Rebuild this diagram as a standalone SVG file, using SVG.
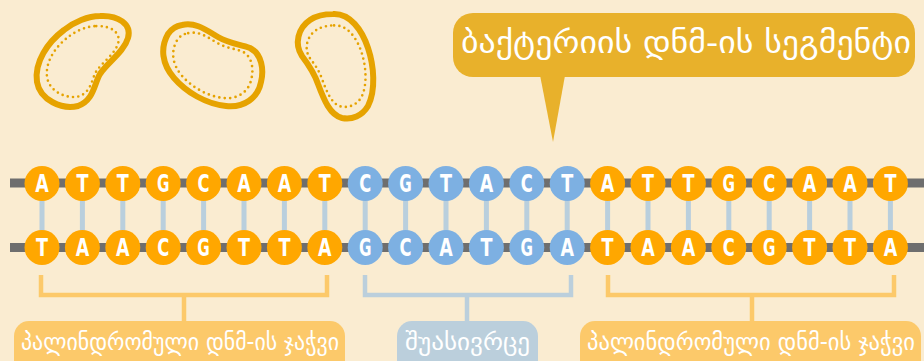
<svg xmlns="http://www.w3.org/2000/svg" width="924" height="361" viewBox="0 0 924 361">
  <style>
    .bg { fill: #FAECD1; }
    .blob { fill: none; stroke: #E6A300; stroke-width: 6; stroke-linejoin: round; }
    .blob-dots { fill: none; stroke: #E6A300; stroke-width: 3.4; stroke-linecap: round; stroke-dasharray: 0 6.8; }
    .backbone { stroke: #6E6E6E; stroke-width: 9; }
    .rung { stroke: #B9CFDD; stroke-width: 5; }
    .base-o { fill: #FFA700; }
    .base-b { fill: #7DB0E2; }
    .nt { fill: #FFFFFF; font-family: "DejaVu Sans Condensed", "Liberation Sans", sans-serif; font-weight: bold; font-size: 24px; text-anchor: middle; }
    .geo { fill: #FFFFFF; font-family: "DejaVu Sans Condensed", "DejaVu Sans", sans-serif; text-anchor: middle; }
    .bracket-o { fill: none; stroke: #FCC96A; stroke-width: 4.5; }
    .bracket-b { fill: none; stroke: #BBCFDC; stroke-width: 4.5; }
  </style>

  <rect class="bg" x="0" y="0" width="924" height="361"/>

  <!-- bacterial cells: thick outline with a dotted inner membrane -->
  <g id="cell-1">
    <path class="blob" d="M 100 16 C 118 15, 132 24, 128 38 C 124 52, 108 62, 100 74 C 94 84, 94 100, 78 106 C 62 110, 40 100, 37 82 C 34 62, 48 42, 64 30 C 74 22, 88 16, 100 16 Z"/>
    <path class="blob-dots" transform="translate(83 62) scale(0.78) translate(-83 -62)" d="M 100 16 C 118 15, 132 24, 128 38 C 124 52, 108 62, 100 74 C 94 84, 94 100, 78 106 C 62 110, 40 100, 37 82 C 34 62, 48 42, 64 30 C 74 22, 88 16, 100 16 Z"/>
  </g>
  <g id="cell-2">
    <path class="blob" d="M 182 25 C 196 22, 206 30, 218 37 C 230 44, 240 44, 250 48 C 262 54, 264 70, 261 82 C 258 98, 244 108, 226 106 C 206 104, 186 92, 174 78 C 162 64, 160 48, 168 34 C 172 28, 176 26, 182 25 Z"/>
    <path class="blob-dots" transform="translate(213 66) scale(0.8) translate(-213 -66)" d="M 182 25 C 196 22, 206 30, 218 37 C 230 44, 240 44, 250 48 C 262 54, 264 70, 261 82 C 258 98, 244 108, 226 106 C 206 104, 186 92, 174 78 C 162 64, 160 48, 168 34 C 172 28, 176 26, 182 25 Z"/>
  </g>
  <g id="cell-3">
    <path class="blob" d="M 333 14 C 350 13, 362 30, 368 48 C 374 66, 376 90, 368 106 C 362 116, 352 120, 342 118 C 330 115, 324 100, 318 84 C 314 72, 308 64, 302 56 C 294 44, 298 28, 310 20 C 316 16, 324 14, 333 14 Z"/>
    <path class="blob-dots" transform="translate(338 66) scale(0.78) translate(-338 -66)" d="M 333 14 C 350 13, 362 30, 368 48 C 374 66, 376 90, 368 106 C 362 116, 352 120, 342 118 C 330 115, 324 100, 318 84 C 314 72, 308 64, 302 56 C 294 44, 298 28, 310 20 C 316 16, 324 14, 333 14 Z"/>
  </g>

  <!-- callout -->
  <g id="segment-callout">
    <path d="M 539 70 L 566 70 L 553 142 Z" fill="#E8B12B"/>
    <rect x="453" y="13" width="462" height="64" rx="20" fill="#E8B12B"/>
    <text class="geo" x="686" y="53" font-size="31" textLength="450" lengthAdjust="spacingAndGlyphs">ბაქტერიის დნმ-ის სეგმენტი</text>
  </g>

  <!-- connectors: backbones, base-pair rungs, brackets -->
  <g id="connectors">
    <line class="backbone" x1="10" y1="183" x2="924" y2="183"/>
    <line class="backbone" x1="10" y1="247.5" x2="924" y2="247.5"/>
    <g class="rung">
      <line x1="42" y1="198" x2="42" y2="232"/>
      <line x1="82.4" y1="198" x2="82.4" y2="232"/>
      <line x1="122.8" y1="198" x2="122.8" y2="232"/>
      <line x1="163.2" y1="198" x2="163.2" y2="232"/>
      <line x1="203.6" y1="198" x2="203.6" y2="232"/>
      <line x1="244" y1="198" x2="244" y2="232"/>
      <line x1="284.4" y1="198" x2="284.4" y2="232"/>
      <line x1="324.8" y1="198" x2="324.8" y2="232"/>
      <line x1="365.2" y1="198" x2="365.2" y2="232"/>
      <line x1="405.6" y1="198" x2="405.6" y2="232"/>
      <line x1="446" y1="198" x2="446" y2="232"/>
      <line x1="486.4" y1="198" x2="486.4" y2="232"/>
      <line x1="526.8" y1="198" x2="526.8" y2="232"/>
      <line x1="567.2" y1="198" x2="567.2" y2="232"/>
      <line x1="607.6" y1="198" x2="607.6" y2="232"/>
      <line x1="648" y1="198" x2="648" y2="232"/>
      <line x1="688.4" y1="198" x2="688.4" y2="232"/>
      <line x1="728.8" y1="198" x2="728.8" y2="232"/>
      <line x1="769.2" y1="198" x2="769.2" y2="232"/>
      <line x1="809.6" y1="198" x2="809.6" y2="232"/>
      <line x1="850" y1="198" x2="850" y2="232"/>
      <line x1="890.4" y1="198" x2="890.4" y2="232"/>
    </g>
    <path class="bracket-o" d="M 41 275 V 295 H 327 V 275 M 184 295 V 322"/>
    <path class="bracket-b" d="M 365 275 V 295 H 571 V 275 M 467 295 V 322"/>
    <path class="bracket-o" d="M 608 275 V 295 H 894 V 275 M 752 295 V 322"/>
  </g>

  <!-- top strand -->
  <g id="strand-top">
    <g class="base-o">
      <circle cx="42" cy="183.5" r="17.5"/><circle cx="82.4" cy="183.5" r="17.5"/><circle cx="122.8" cy="183.5" r="17.5"/><circle cx="163.2" cy="183.5" r="17.5"/>
      <circle cx="203.6" cy="183.5" r="17.5"/><circle cx="244" cy="183.5" r="17.5"/><circle cx="284.4" cy="183.5" r="17.5"/><circle cx="324.8" cy="183.5" r="17.5"/>
      <circle cx="607.6" cy="183.5" r="17.5"/><circle cx="648" cy="183.5" r="17.5"/><circle cx="688.4" cy="183.5" r="17.5"/><circle cx="728.8" cy="183.5" r="17.5"/>
      <circle cx="769.2" cy="183.5" r="17.5"/><circle cx="809.6" cy="183.5" r="17.5"/><circle cx="850" cy="183.5" r="17.5"/><circle cx="890.4" cy="183.5" r="17.5"/>
    </g>
    <g class="base-b">
      <circle cx="365.2" cy="183.5" r="17.5"/><circle cx="405.6" cy="183.5" r="17.5"/><circle cx="446" cy="183.5" r="17.5"/>
      <circle cx="486.4" cy="183.5" r="17.5"/><circle cx="526.8" cy="183.5" r="17.5"/><circle cx="567.2" cy="183.5" r="17.5"/>
    </g>
    <g class="nt">
      <text x="42" y="192" textLength="13.5" lengthAdjust="spacingAndGlyphs">A</text><text x="82.4" y="192" textLength="12" lengthAdjust="spacingAndGlyphs">T</text><text x="122.8" y="192" textLength="12" lengthAdjust="spacingAndGlyphs">T</text><text x="163.2" y="192" textLength="12.5" lengthAdjust="spacingAndGlyphs">G</text>
      <text x="203.6" y="192" textLength="12" lengthAdjust="spacingAndGlyphs">C</text><text x="244" y="192" textLength="13.5" lengthAdjust="spacingAndGlyphs">A</text><text x="284.4" y="192" textLength="13.5" lengthAdjust="spacingAndGlyphs">A</text><text x="324.8" y="192" textLength="12" lengthAdjust="spacingAndGlyphs">T</text>
      <text x="365.2" y="192" textLength="12" lengthAdjust="spacingAndGlyphs">C</text><text x="405.6" y="192" textLength="12.5" lengthAdjust="spacingAndGlyphs">G</text><text x="446" y="192" textLength="12" lengthAdjust="spacingAndGlyphs">T</text><text x="486.4" y="192" textLength="13.5" lengthAdjust="spacingAndGlyphs">A</text>
      <text x="526.8" y="192" textLength="12" lengthAdjust="spacingAndGlyphs">C</text><text x="567.2" y="192" textLength="12" lengthAdjust="spacingAndGlyphs">T</text>
      <text x="607.6" y="192" textLength="13.5" lengthAdjust="spacingAndGlyphs">A</text><text x="648" y="192" textLength="12" lengthAdjust="spacingAndGlyphs">T</text><text x="688.4" y="192" textLength="12" lengthAdjust="spacingAndGlyphs">T</text><text x="728.8" y="192" textLength="12.5" lengthAdjust="spacingAndGlyphs">G</text>
      <text x="769.2" y="192" textLength="12" lengthAdjust="spacingAndGlyphs">C</text><text x="809.6" y="192" textLength="13.5" lengthAdjust="spacingAndGlyphs">A</text><text x="850" y="192" textLength="13.5" lengthAdjust="spacingAndGlyphs">A</text><text x="890.4" y="192" textLength="12" lengthAdjust="spacingAndGlyphs">T</text>
    </g>
  </g>

  <!-- bottom strand -->
  <g id="strand-bottom">
    <g class="base-o">
      <circle cx="42" cy="247.5" r="17.5"/><circle cx="82.4" cy="247.5" r="17.5"/><circle cx="122.8" cy="247.5" r="17.5"/><circle cx="163.2" cy="247.5" r="17.5"/>
      <circle cx="203.6" cy="247.5" r="17.5"/><circle cx="244" cy="247.5" r="17.5"/><circle cx="284.4" cy="247.5" r="17.5"/><circle cx="324.8" cy="247.5" r="17.5"/>
      <circle cx="607.6" cy="247.5" r="17.5"/><circle cx="648" cy="247.5" r="17.5"/><circle cx="688.4" cy="247.5" r="17.5"/><circle cx="728.8" cy="247.5" r="17.5"/>
      <circle cx="769.2" cy="247.5" r="17.5"/><circle cx="809.6" cy="247.5" r="17.5"/><circle cx="850" cy="247.5" r="17.5"/><circle cx="890.4" cy="247.5" r="17.5"/>
    </g>
    <g class="base-b">
      <circle cx="365.2" cy="247.5" r="17.5"/><circle cx="405.6" cy="247.5" r="17.5"/><circle cx="446" cy="247.5" r="17.5"/>
      <circle cx="486.4" cy="247.5" r="17.5"/><circle cx="526.8" cy="247.5" r="17.5"/><circle cx="567.2" cy="247.5" r="17.5"/>
    </g>
    <g class="nt">
      <text x="42" y="256" textLength="12" lengthAdjust="spacingAndGlyphs">T</text><text x="82.4" y="256" textLength="13.5" lengthAdjust="spacingAndGlyphs">A</text><text x="122.8" y="256" textLength="13.5" lengthAdjust="spacingAndGlyphs">A</text><text x="163.2" y="256" textLength="12" lengthAdjust="spacingAndGlyphs">C</text>
      <text x="203.6" y="256" textLength="12.5" lengthAdjust="spacingAndGlyphs">G</text><text x="244" y="256" textLength="12" lengthAdjust="spacingAndGlyphs">T</text><text x="284.4" y="256" textLength="12" lengthAdjust="spacingAndGlyphs">T</text><text x="324.8" y="256" textLength="13.5" lengthAdjust="spacingAndGlyphs">A</text>
      <text x="365.2" y="256" textLength="12.5" lengthAdjust="spacingAndGlyphs">G</text><text x="405.6" y="256" textLength="12" lengthAdjust="spacingAndGlyphs">C</text><text x="446" y="256" textLength="13.5" lengthAdjust="spacingAndGlyphs">A</text><text x="486.4" y="256" textLength="12" lengthAdjust="spacingAndGlyphs">T</text>
      <text x="526.8" y="256" textLength="12.5" lengthAdjust="spacingAndGlyphs">G</text><text x="567.2" y="256" textLength="13.5" lengthAdjust="spacingAndGlyphs">A</text>
      <text x="607.6" y="256" textLength="12" lengthAdjust="spacingAndGlyphs">T</text><text x="648" y="256" textLength="13.5" lengthAdjust="spacingAndGlyphs">A</text><text x="688.4" y="256" textLength="13.5" lengthAdjust="spacingAndGlyphs">A</text><text x="728.8" y="256" textLength="12" lengthAdjust="spacingAndGlyphs">C</text>
      <text x="769.2" y="256" textLength="12.5" lengthAdjust="spacingAndGlyphs">G</text><text x="809.6" y="256" textLength="12" lengthAdjust="spacingAndGlyphs">T</text><text x="850" y="256" textLength="12" lengthAdjust="spacingAndGlyphs">T</text><text x="890.4" y="256" textLength="13.5" lengthAdjust="spacingAndGlyphs">A</text>
    </g>
  </g>

  <!-- region labels -->
  <g id="label-palindrome-left">
    <rect x="14" y="321" width="331" height="60" rx="15" fill="#FCC96A"/>
    <text class="geo" x="180" y="350" font-size="24" textLength="318" lengthAdjust="spacingAndGlyphs">პალინდრომული დნმ-ის ჯაჭვი</text>
  </g>
  <g id="label-spacer">
    <rect x="397" y="321" width="141" height="60" rx="15" fill="#BBCFDC"/>
    <text class="geo" x="467.5" y="350" font-size="24" textLength="125" lengthAdjust="spacingAndGlyphs">შუასივრცე</text>
  </g>
  <g id="label-palindrome-right">
    <rect x="580" y="321" width="341" height="60" rx="15" fill="#FCC96A"/>
    <text class="geo" x="751" y="350" font-size="24" textLength="328" lengthAdjust="spacingAndGlyphs">პალინდრომული დნმ-ის ჯაჭვი</text>
  </g>
</svg>
